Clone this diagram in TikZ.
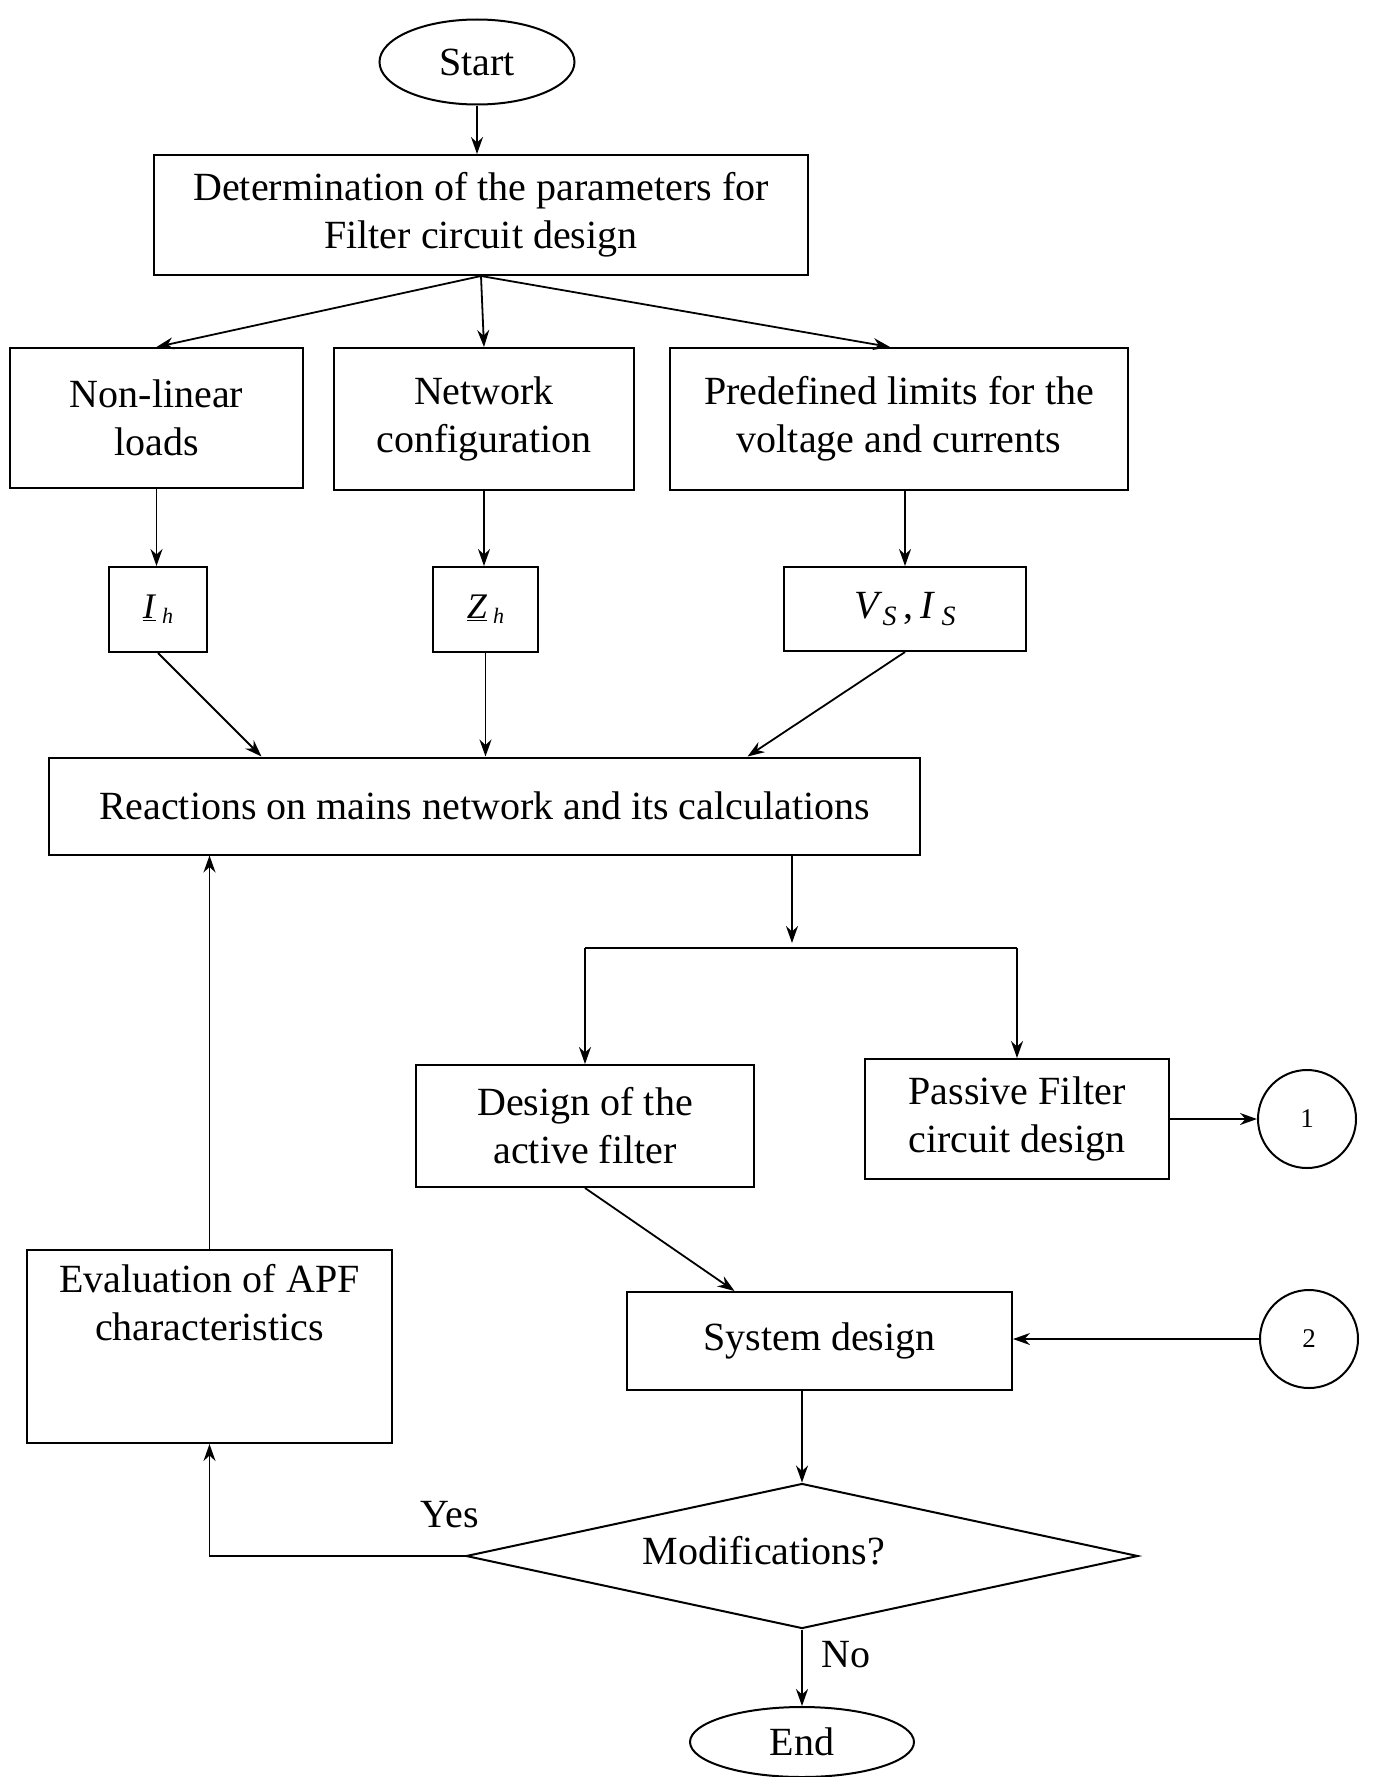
\documentclass[tikz,border=0pt]{standalone}
\usepackage{fontspec}
\setmainfont{Liberation Serif}
\usetikzlibrary{shapes.geometric,arrows.meta}

\begin{document}
\begin{tikzpicture}[x=1pt,y=-1pt,
  every node/.style={font=\fontsize{40}{48}\selectfont},
  box/.style={draw,line width=2pt,rectangle,inner sep=0pt,align=center},
  conn/.style={line width=1.8pt},
  arr/.style={conn,-{Stealth[length=17pt,width=12pt]}},
  term/.style={draw,ellipse,line width=2pt,inner sep=0pt},
  refc/.style={draw,circle,line width=2pt,minimum size=98pt,inner sep=0pt,
               font=\fontsize{27}{30}\selectfont},
  lbl/.style={inner sep=0pt}]

\useasboundingbox (0,0) rectangle (1376,1777);

% terminals
\node[term,minimum width=195,minimum height=85] (start) at (477,62) {Start};
\node[term,minimum width=224,minimum height=70] (end) at (802,1742) {End};

% first stage
\node[box,minimum width=654,minimum height=120] (det) at (481,215)
  {Determination of the parameters for\\Filter circuit design};

\node[box,minimum width=293,minimum height=140] (nl) at (156.5,418) {Non-linear\\loads};
\node[box,minimum width=300,minimum height=142] (net) at (484,419) {Network\\configuration};
\node[box,minimum width=458,minimum height=142] (pre) at (899,419)
  {Predefined limits for the\\voltage and currents};

% quantities
\node[box,minimum width=98,minimum height=85] (ih) at (158,609.5)
  {\fontsize{36}{40}\selectfont\underline{\textit{I}}\,\raisebox{-0.3ex}{\fontsize{22}{24}\selectfont\textit{h}}};
\node[box,minimum width=105,minimum height=85] (zh) at (485.5,609.5)
  {\fontsize{36}{40}\selectfont\underline{\textit{Z}}\,\raisebox{-0.3ex}{\fontsize{22}{24}\selectfont\textit{h}}};
\node[box,minimum width=242,minimum height=84] (vs) at (905,609)
  {\textit{V}\raisebox{-0.4ex}{\fontsize{28}{30}\selectfont\textit{S}}\,,\,\textit{I}\,\raisebox{-0.4ex}{\fontsize{28}{30}\selectfont\textit{S}}};

% network reactions
\node[box,minimum width=871,minimum height=97] (reac) at (484.5,806)
  {Reactions on mains network and its calculations};

% filter design
\node[box,minimum width=338,minimum height=122] (act) at (585,1126)
  {Design of the\\active filter};
\node[box,minimum width=304,minimum height=120] (pas) at (1017,1119)
  {Passive Filter\\circuit design};
\node[refc] (c1) at (1307,1119) {1};

\node[box,minimum width=385,minimum height=98] (sys) at (819.5,1341) {System design};
\node[refc] (c2) at (1309,1339) {2};

% evaluation box, text set at its top
\node[box,minimum width=365,minimum height=193] (eval) at (209.5,1346.5) {};
\node[anchor=north,align=center] (evaltext) at ([yshift=-12pt]eval.north)
  {Evaluation of APF\\characteristics};

% decision
\node[draw,diamond,line width=2pt,minimum width=672,minimum height=145,
      aspect=4.6,inner sep=0pt] (dia) at (802,1556) {};
\node[lbl] (diatext) at (764,1551) {Modifications?};
\node[lbl] (yes) at (450,1515) {Yes};
\node[lbl] (no) at (846,1655) {No};

% connectors
\draw[arr] (start.south) -- (start.south |- det.north);
\draw[arr] (det.south) -- (nl.north);
\draw[arr] (det.south) -- (net.north);
\draw[arr] (det.south) -- ([xshift=-9pt]pre.north);

\draw[arr] (nl.south) -- (nl.south |- ih.north);
\draw[arr] (net.south) -- (net.south |- zh.north);
\draw[arr] (vs.north |- pre.south) -- (vs.north);

\draw[arr] (ih.south) -- ([xshift=-223pt]reac.north);
\draw[arr] (zh.south) -- (zh.south |- reac.north);
\draw[arr] (vs.south) -- ([xshift=263pt]reac.north);

\coordinate (split) at (792,948);
\coordinate (splitL) at (act.north |- split);
\coordinate (splitR) at (pas.north |- split);
\draw[arr] (split |- reac.south) -- ([yshift=5pt]split);
\draw[conn] (splitL) -- (splitR);
\draw[arr] (splitL) -- (act.north);
\draw[arr] (splitR) -- (pas.north);

\draw[arr] (pas.east) -- (c1.west);
\draw[arr] (c2.west) -- (c2.west -| sys.east);
\draw[arr] (act.south) -- ([xshift=-85pt]sys.north);

\draw[arr] (dia.north |- sys.south) -- (dia.north);
\draw[arr] (dia.south) -- (end.north);
\draw[arr] (dia.west) -| (eval.south);
\draw[arr] (eval.north) -- (eval.north |- reac.south);

\end{tikzpicture}
\end{document}
